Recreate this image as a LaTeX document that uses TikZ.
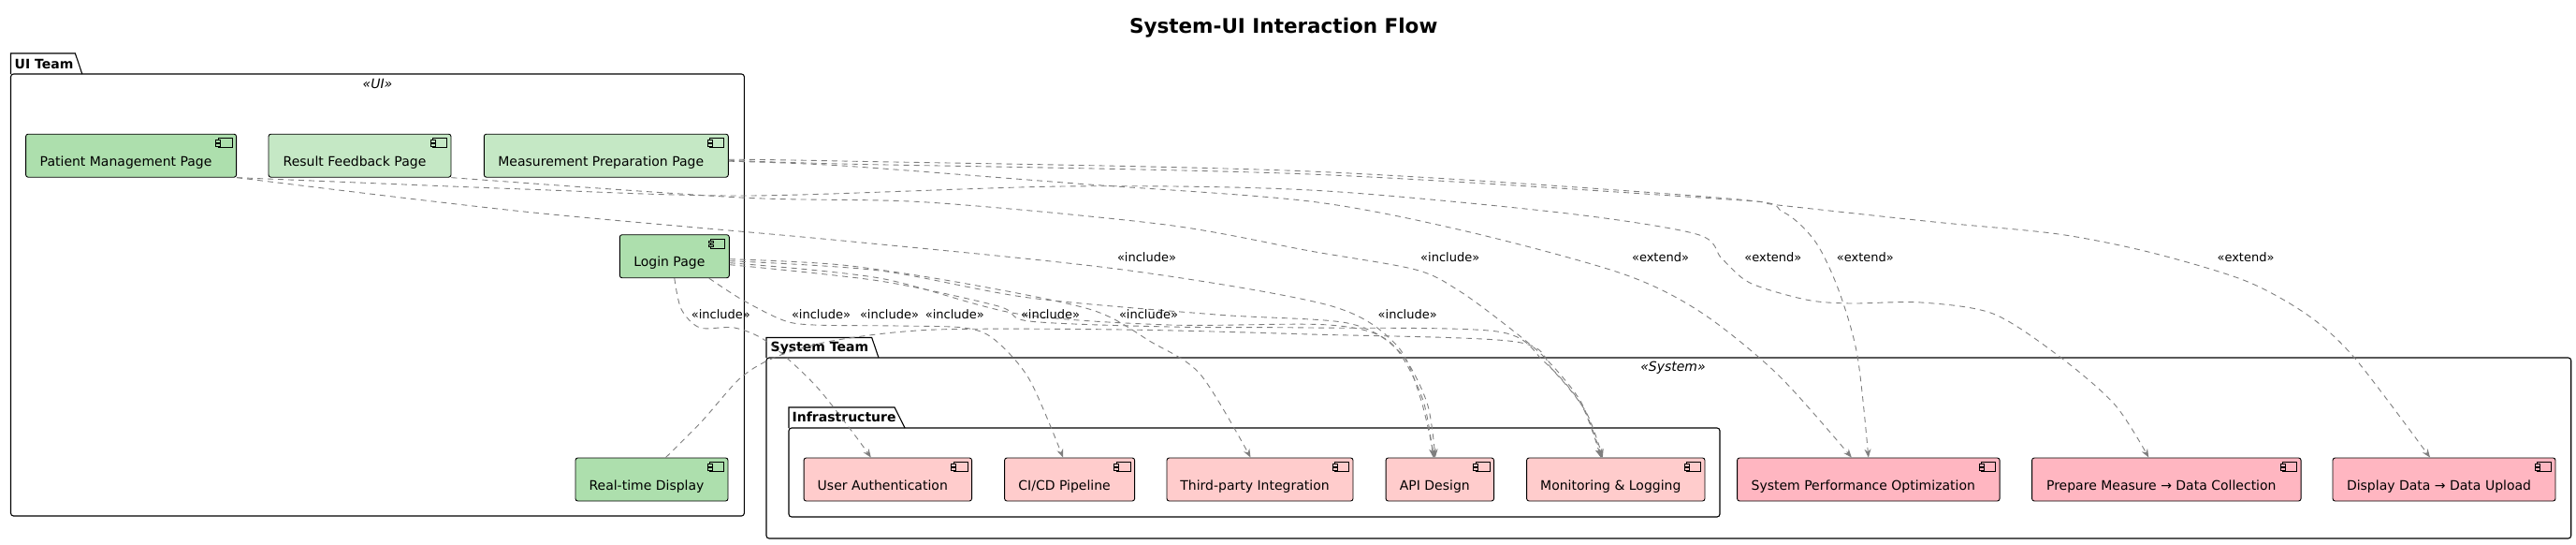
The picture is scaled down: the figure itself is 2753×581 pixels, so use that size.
\documentclass[tikz,border=0pt]{standalone}
\usepackage{fontspec}
\setmainfont{DejaVu Sans}
\usepackage{xcolor}
\usepackage{tikz}
\usetikzlibrary{arrows.meta}

\definecolor{uiDark}{HTML}{ADDFAD}
\definecolor{uiLight}{HTML}{C5E8C5}
\definecolor{infraPink}{HTML}{FFCCCC}
\definecolor{sysPink}{HTML}{FFB6C1}
\definecolor{edgeGray}{HTML}{7F7F7F}

\tikzset{
	comp/.style={draw=black,line width=0.9pt,rounded corners=2.5pt,minimum height=46pt,
		inner xsep=14pt,inner ysep=0pt,text height=25pt,text depth=3pt,
		font=\fontsize{14}{16}\selectfont,execute at end node={\hspace{11pt}}},
	uiA/.style={comp,fill=uiDark},
	uiB/.style={comp,fill=uiLight},
	infra/.style={comp,fill=infraPink},
	sys/.style={comp,fill=sysPink},
	pkg/.style={draw=black,line width=1.1pt},
	pkglbl/.style={anchor=base west,inner sep=0pt,font=\bfseries\fontsize{14}{16}\selectfont},
	stereo/.style={anchor=base,inner sep=0pt,font=\itshape\fontsize{14}{16}\selectfont},
	dep/.style={draw=edgeGray,line width=0.9pt,dash pattern=on 6pt off 5pt,->},
	lbl/.style={anchor=base,inner sep=0pt,font=\fontsize{13}{15}\selectfont},
}

\begin{document}
\begin{tikzpicture}[x=1pt,y=-1pt,>={Stealth[length=9pt,width=7pt,inset=3pt]}]
			\def\uiY{166.2}
			\def\infY{512}
			
			\fill[white] (0,0) rectangle (2753,581);
			\useasboundingbox (0,0) rectangle (2753,581);
			
			\node[anchor=base,font=\bfseries\fontsize{21.5}{24}\selectfont] (title) at (1371.7,35) {System-UI Interaction Flow};
			
			% 包：UI Team
			\draw[pkg] (11.5,79) -- (11.5,57) -- (80.4,57) -- (87.8,79);
			\draw[pkg,rounded corners=3pt] (11.5,79) rectangle (795.4,551);
			\node[pkglbl] (uiTeam) at (15.5,73.5) {UI Team};
			\node[stereo] (uiStereo) at (403.5,94.5) {«UI»};
			
			% 包：System Team
			\draw[pkg] (819,382) -- (819,360.5) -- (931.7,360.5) -- (939,382);
			\draw[pkg,rounded corners=3pt] (819,382) rectangle (2747.7,575);
			\node[pkglbl] (sysTeam) at (823.5,375.5) {System Team};
			\node[stereo] (sysStereo) at (1788,396) {«System»};
			
			% 包：Infrastructure
			\draw[pkg] (843,457) -- (843,435) -- (956,435) -- (967,457);
			\draw[pkg,rounded corners=3pt] (843,457) rectangle (1838,552);
			\node[pkglbl] (infTeam) at (846.5,450.5) {Infrastructure};
			
			% 组件
			\node[uiA,minimum width=225pt] (patient) at (140.1,\uiY) {Patient Management Page};
			\node[uiB,minimum width=195pt] (result) at (384.5,\uiY) {Result Feedback Page};
			\node[uiB,minimum width=261pt] (measure) at (647.8,\uiY) {Measurement Preparation Page};
			\node[uiA,minimum width=117pt] (login) at (720.8,273.7) {Login Page};
			\node[uiA,minimum width=163pt] (realtime) at (696.5,\infY) {Real-time Display};
			
			\node[infra,minimum width=179.5pt] (auth) at (948.8,\infY) {User Authentication};
			\node[infra,minimum width=139pt] (cicd) at (1143.1,\infY) {CI/CD Pipeline};
			\node[infra,minimum width=199pt] (third) at (1346.5,\infY) {Third-party Integration};
			\node[infra,minimum width=115.5pt] (api) at (1538.8,\infY) {API Design};
			\node[infra,minimum width=190.4pt] (monitor) at (1726.8,\infY) {Monitoring \& Logging};
			\node[sys,minimum width=280.5pt] (perf) at (1996.8,\infY) {System Performance Optimization};
			\node[sys,minimum width=287.5pt] (prepare) at (2315.3,\infY) {Prepare Measure → Data Collection};
			\node[sys,minimum width=238pt] (display) at (2612,\infY) {Display Data → Data Upload};
			
			% 组件图标
			\foreach \n/\c in {patient/uiDark,result/uiLight,measure/uiLight,login/uiDark,realtime/uiDark,
				auth/infraPink,cicd/infraPink,third/infraPink,api/infraPink,monitor/infraPink,
				perf/sysPink,prepare/sysPink,display/sysPink}{
				\draw[line width=0.7pt] ([shift={(-20,5)}]\n.north east) rectangle ++(15,10);
				\draw[line width=0.7pt,fill=\c] ([shift={(-22.5,7)}]\n.north east) rectangle ++(5,2.5);
				\draw[line width=0.7pt,fill=\c] ([shift={(-22.5,11)}]\n.north east) rectangle ++(5,2.5);
			}
			
			% 依赖：include / extend
			\draw[dep] plot[smooth] coordinates {(patient.south east) (560,226) (900,257) (1200,288) (1420,326) (1492,368) (1518,425) ([xshift=-6pt]api.north)}
			node[lbl] (l1) at (1225.5,279.5) {«include»};
			\draw[dep] plot[smooth] coordinates {(patient.south east) (560,202) (800,209) (1138,199) (1400,203) (1667,227) (1813,250) (1840,276) (1870,302) (1930,320) (1977,324) (2053,323) (2130,335) (2200,380) (2260,432) ([xshift=-19pt]prepare.north)}
			node[lbl] (l2) at (1894.8,279.5) {«extend»};
			\draw[dep] plot[smooth] coordinates {(result.south east) (792,211) (991,216) (1246,240) (1400,268) (1513,288) (1560,311) (1613,350) (1653,384) (1690,430) ([xshift=-15pt]monitor.north)}
			node[lbl] (l3) at (1549.7,279.5) {«include»};
			\draw[dep] plot[smooth] coordinates {([yshift=-6pt]measure.east) (900,177) (1150,196) (1400,215) (1567,247) (1733,292) (1817,333) (1900,400) ([xshift=-18pt]perf.north)}
			node[lbl] (l4) at (1774.5,279.5) {«extend»};
			\draw[dep] plot[smooth] coordinates {([yshift=-4pt]measure.east) (900,172) (1400,183) (1847,212) (1905,226) (1940,258) (1965,310) (1985,380) (perf.north)}
			node[lbl] (l5) at (1993.3,279.5) {«extend»};
			\draw[dep] plot[smooth] coordinates {([yshift=-5pt]measure.east) (900,175) (1400,186) (1847,213) (1900,219) (2067,237) (2200,250) (2300,270) (2400,300) (2467,337) (2517,383) ([xshift=-15pt]display.north)}
			node[lbl] (l6) at (2400,279.5) {«extend»};
			\draw[dep] plot[smooth] coordinates {(login.south) (728,330) (748,350) (785,350) (820,365) (870,410) (910,460) ([xshift=-18pt]auth.north)}
			node[lbl] (l7) at (770.3,340) {«include»};
			\draw[dep] plot[smooth] coordinates {([xshift=37pt]login.south) (793,320) (837,342) (870,347) (960,348) (1030,350) (1062,362) (1100,405) ([xshift=-7pt]cicd.north)}
			node[lbl] (l8) at (877.5,340) {«include»};
			\draw[dep] plot[smooth] coordinates {([yshift=-3pt]login.east) (900,283) (1033,303) (1167,331) (1230,365) (1283,400) ([xshift=-10pt]third.north)}
			node[lbl] (l9) at (1020.3,340) {«include»};
			\draw[dep] plot[smooth] coordinates {([yshift=-5pt]login.east) (940,289) (1100,318) (1300,336) (1440,345) (1495,375) (1525,430) ([xshift=-5pt]api.north)}
			node[lbl] (l10) at (950.5,340) {«include»};
			\draw[dep] plot[smooth] coordinates {([yshift=-7pt]login.east) (940,297) (1087,335) (1250,347) (1420,347) (1485,365) (1520,425) ([xshift=-7pt]api.north)}
			node[lbl] (l11) at (1227.5,340) {«include»};
			\draw[dep] plot[smooth] coordinates {([yshift=-9pt]login.east) (940,300) (1067,327) (1100,343) (1250,349) (1400,350) (1600,354) (1650,386) (1690,432) ([xshift=-16pt]monitor.north)}
			node[lbl] (l12) at (1122.5,340) {«include»};
			\draw[dep] plot[smooth] coordinates {([xshift=15pt]realtime.north) (750,450) (792,403) (832,380) (895,363) (1000,352) (1200,352) (1400,357) (1620,365) (1660,396) (1695,440) ([xshift=-14pt]monitor.north)}
			node[lbl] (l13) at (1504.2,340) {«include»};
		\end{tikzpicture}
\end{document}
